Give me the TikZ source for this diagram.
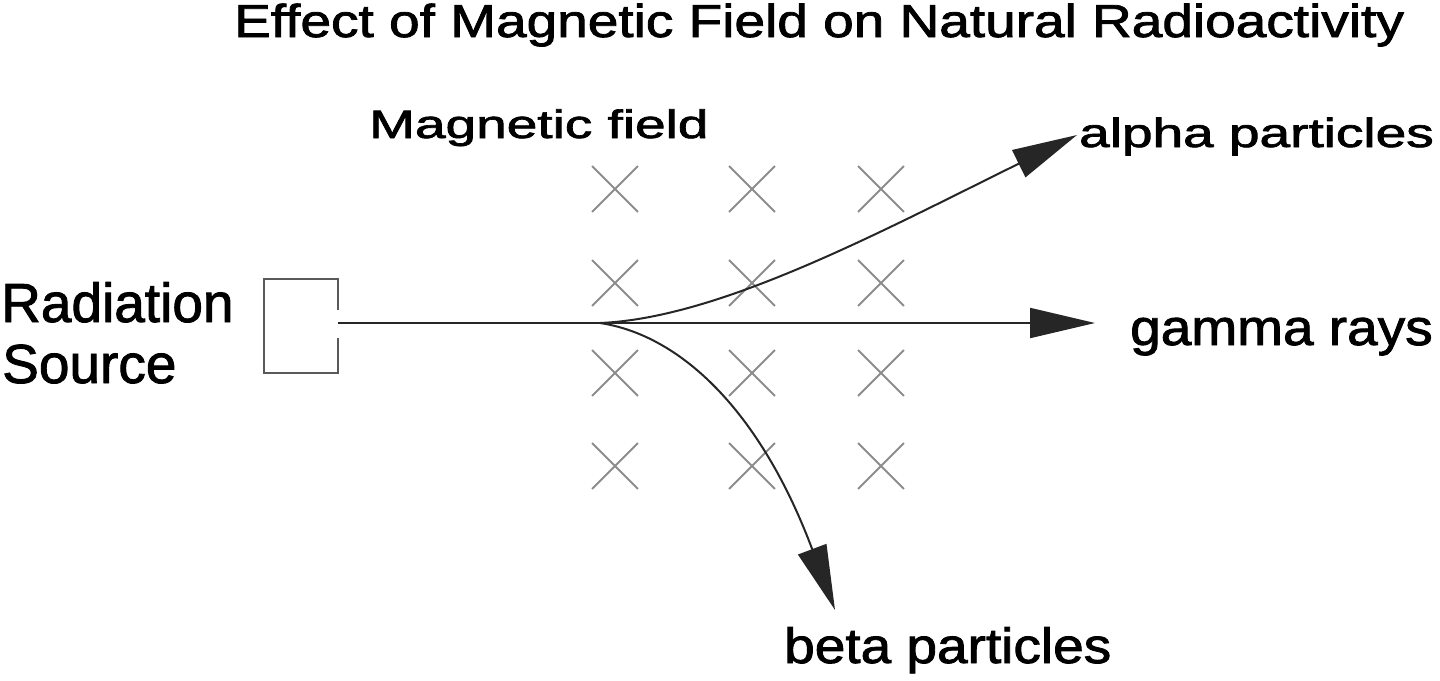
\documentclass[tikz,border=0pt]{standalone}
\usepackage{fontspec}
\setmainfont{Liberation Sans}
\usetikzlibrary{arrows.meta,shapes.misc}
\newcommand{\lbl}[2]{\scalebox{1}[#1]{\fontsize{55}{60}\selectfont\addfontfeature{FakeBold=1.6}#2}}
\tikzset{
  crossmark/.style={cross out,draw=black!45,line width=1.8pt,minimum size=44pt,inner sep=0pt},
  ray/.style={draw=black!85,line width=2pt,-{Triangle[length=65pt,width=30pt]}},
  txt/.style={anchor=base west,inner sep=0pt,text=black},
}
\begin{document}
\begin{tikzpicture}[x=1pt,y=-1pt]
\path[use as bounding box] (0,0) rectangle (1440,680);
% title
\node[txt] (title) at (234,37) {\lbl{0.84}{Effect of Magnetic Field on Natural Radioactivity}};
% labels
\node[txt] (mf) at (369,138) {\lbl{0.72}{Magnetic field}};
\node[txt] (alphaL) at (1079,147) {\lbl{0.74}{alpha particles}};
\node[txt] (gammaL) at (1130,345) {\lbl{0.92}{gamma rays}};
\node[txt] (betaL) at (784,663) {\lbl{0.9}{beta particles}};
\node[txt] (rad) at (1,322) {\lbl{1}{Radiation}};
\node[txt] (src) at (2,383) {\lbl{1}{Source}};
% crosses (magnetic field into page)
\foreach \c/\x in {1/615,2/752,3/881}{
  \foreach \r/\y in {1/189,2/283,3/373,4/466}{
    \node[crossmark] (x\c\r) at (\x,\y) {};
  }
}
% radiation source box with opening
\coordinate (srcout) at (338,323);
\draw[draw=black!65,line width=2pt] (338,310) -- (338,279) -- (264,279) -- (264,373) -- (338,373) -- (338,338);
% ray coordinates
\coordinate (branch) at (600,323);
\coordinate (gtip) at (1095,323);
\coordinate (atip) at (1077,135);
\coordinate (btip) at (835,610);
% gamma rays
\draw[ray] (srcout) -- (gtip);
% alpha particles
\draw[ray] (branch) .. controls (720,318) and (880,232) .. (atip);
% beta particles
\draw[ray] (branch) .. controls (680,335) and (760,410) .. (btip);
\end{tikzpicture}
\end{document}
